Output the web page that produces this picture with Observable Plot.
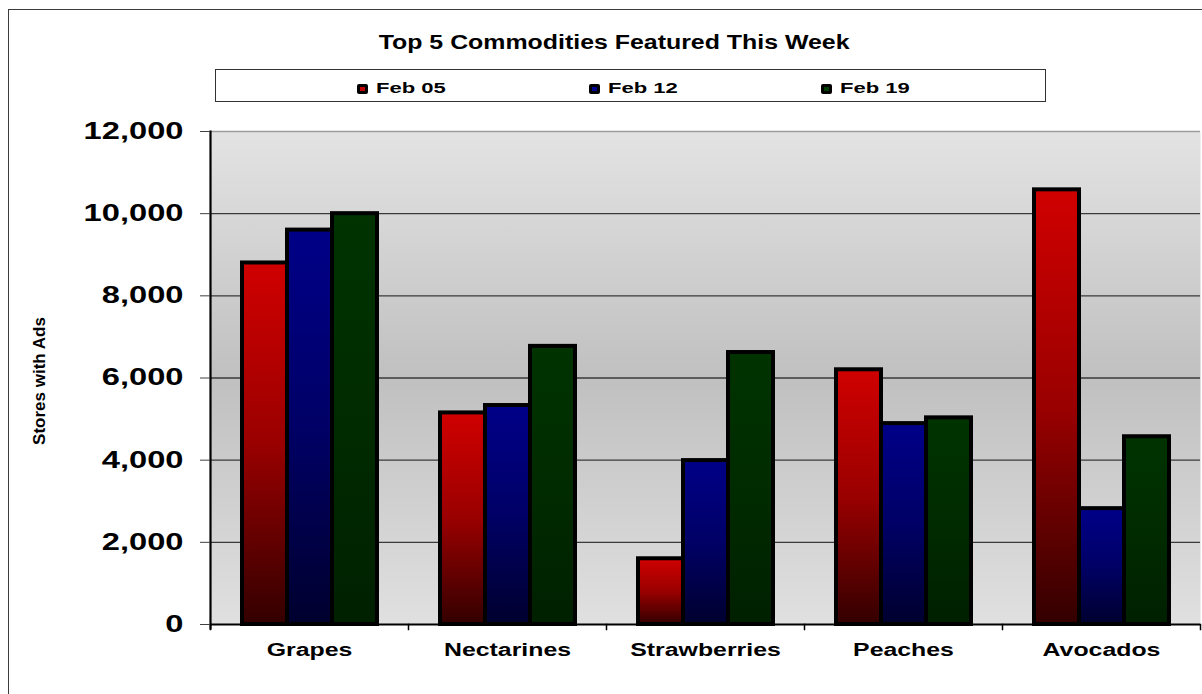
<!DOCTYPE html>
<html>
<head>
<meta charset="utf-8">
<script src="https://cdn.jsdelivr.net/npm/d3@7"></script>
<script src="https://cdn.jsdelivr.net/npm/@observablehq/plot@0.6"></script>
<style>
  html, body { margin: 0; padding: 0; background: #fff; overflow: hidden; }
  #wrap { position: relative; width: 1202px; height: 694px; overflow: hidden; font-family: "Liberation Sans", Arial, sans-serif; }
  #wrap svg { position: absolute; left: 0; top: 0; }
  #outer { position: absolute; left: 8px; top: 9px; width: 1210px; height: 700px; border: 1.5px solid #3c3c3c; }
  #title { position: absolute; left: 0; top: 31px; width: 1228px; text-align: center; font-weight: bold; font-size: 20px; color: #000; }
  #title span { display: inline-block; transform: scaleX(1.245); transform-origin: center; }
  #legend { position: absolute; left: 215px; top: 69px; width: 829px; height: 31px; border: 1.5px solid #333; background: #fff; }
  .li { position: absolute; top: 82px; height: 14px; }
  .sw { position: absolute; top: 2px; left: 0; width: 11px; height: 10px; background: #000; border-radius: 2px; }
  .sw i { position: absolute; left: 3px; top: 3px; width: 5px; height: 4px; }
  .lt { position: absolute; left: 19px; top: -3px; font-weight: bold; font-size: 15px; white-space: nowrap; transform: scaleX(1.47); transform-origin: left center; }
  #ylab { position: absolute; left: 40px; top: 381px; font-weight: bold; font-size: 17px; white-space: nowrap; transform: translate(-50%, -50%) rotate(-90deg); }
</style>
</head>
<body>
<div id="wrap">
  <div id="outer"></div>
  <div id="title"><span></span></div>
  <div id="legend"></div>
  <div id="ylab"></div>
</div>
<script>
// ---- data ----
const categories = ["Grapes", "Nectarines", "Strawberries", "Peaches", "Avocados"];
const seriesNames = ["Feb 05", "Feb 12", "Feb 19"];
const feb05 = [8800, 5150, 1600, 6200, 10580];
const feb12 = [9600, 5330, 3990, 4890, 2820];
const feb19 = [10000, 6770, 6620, 5030, 4570];
const yTicks = [0, 2000, 4000, 6000, 8000, 10000, 12000];
const titleText = "Top 5 Commodities Featured This Week";
const yLabel = "Stores with Ads";

// ---- styles ----
const gradStops = {
  "Feb 05": [["0", "#d00000"], ["0.5", "#9a0000"], ["1", "#330000"]],
  "Feb 12": [["0", "#000088"], ["0.5", "#000066"], ["1", "#00002e"]],
  "Feb 19": [["0", "#003300"], ["0.5", "#002b00"], ["1", "#002000"]]
};
const swatchColors = {"Feb 05": "#c00000", "Feb 12": "#000090", "Feb 19": "#004000"};
const legendLeft = {"Feb 05": 357, "Feb 12": 589, "Feb 19": 821};
const gradId = s => "g" + s.replace(/\s/g, "");

const seriesValues = [feb05, feb12, feb19];
const data = categories.flatMap((c, i) =>
  seriesNames.map((s, j) => ({category: c, series: s, value: seriesValues[j][i]}))
);

const chart = Plot.plot({
  width: 1202,
  height: 694,
  marginLeft: 209,
  marginRight: 1,
  marginTop: 131,
  marginBottom: 70,
  style: {background: "transparent", fontFamily: "Liberation Sans, Arial, sans-serif", overflow: "visible"},
  fx: {domain: categories, padding: 0, label: null},
  x: {domain: seriesNames, paddingInner: 0, paddingOuter: 0.68, axis: null},
  y: {domain: [0, 12000], label: null},
  color: {type: "identity"},
  marks: [
    Plot.frame({fill: "url(#bgGrad)", stroke: null, facet: "super"}),
    Plot.ruleY(yTicks.filter(d => d > 0 && d < 12000), {stroke: "#3a3a3a", strokeWidth: 1.3}),
    Plot.ruleY([12000], {stroke: "#9c9c9c", strokeWidth: 1.3}),
    Plot.barY(data, {
      fx: "category", x: "series", y: "value",
      fill: d => `url(#${gradId(d.series)})`,
      stroke: "black", strokeWidth: 4, strokeLinejoin: "miter"
    }),
    Plot.ruleY([0], {stroke: "black", strokeWidth: 2}),
    Plot.frame({anchor: "left", insetTop: 493, insetBottom: -5, stroke: "black", strokeWidth: 1.5}),
    Plot.frame({anchor: "right", facetAnchor: "right", insetTop: 493, insetBottom: -5, stroke: "black", strokeWidth: 1.5}),
    Plot.frame({anchor: "left", facetAnchor: "left", insetBottom: -4, stroke: "black", strokeWidth: 2.2}),
    Plot.axisY({
      ticks: yTicks, tickFormat: d3.format(","), tickSize: 10, tickPadding: 17,
      fontSize: 23, fontWeight: "bold", stroke: "#404040", fill: "black", label: null
    }),
    Plot.axisFx({
      anchor: "bottom", tickSize: 0, tickPadding: 19, fontSize: 17.5, fontWeight: "bold",
      fill: "black", label: null
    })
  ]
});

document.getElementById("wrap").appendChild(chart);

// gradients
const svg = d3.select(chart);
const defs = svg.insert("defs", ":first-child");
const bg = defs.append("linearGradient").attr("id", "bgGrad").attr("x1", 0).attr("y1", 0).attr("x2", 0).attr("y2", 1);
[["0", "#e3e3e3"], ["0.5", "#c0c0c0"], ["1", "#e0e0e0"]].forEach(([o, c]) => bg.append("stop").attr("offset", o).attr("stop-color", c));
seriesNames.forEach(s => {
  const g = defs.append("linearGradient").attr("id", gradId(s)).attr("x1", 0).attr("y1", 0).attr("x2", 0).attr("y2", 1);
  gradStops[s].forEach(([o, c]) => g.append("stop").attr("offset", o).attr("stop-color", c));
});

// horizontal stretch of label glyphs, as in the reference
svg.selectAll('g[aria-label="y-axis tick label"] text, g[aria-label="fx-axis tick label"] text').each(function() {
  const len = this.getComputedTextLength();
  this.setAttribute("textLength", len * 1.42);
  this.setAttribute("lengthAdjust", "spacingAndGlyphs");
});

// title, legend, y label
document.querySelector("#title span").textContent = titleText;
document.getElementById("ylab").textContent = yLabel;
const wrap = document.getElementById("wrap");
seriesNames.forEach(s => {
  const item = document.createElement("div");
  item.className = "li";
  item.style.left = legendLeft[s] + "px";
  item.innerHTML = `<span class="sw"><i style="background:${swatchColors[s]}"></i></span><span class="lt">${s}</span>`;
  wrap.appendChild(item);
});
</script>
</body>
</html>
